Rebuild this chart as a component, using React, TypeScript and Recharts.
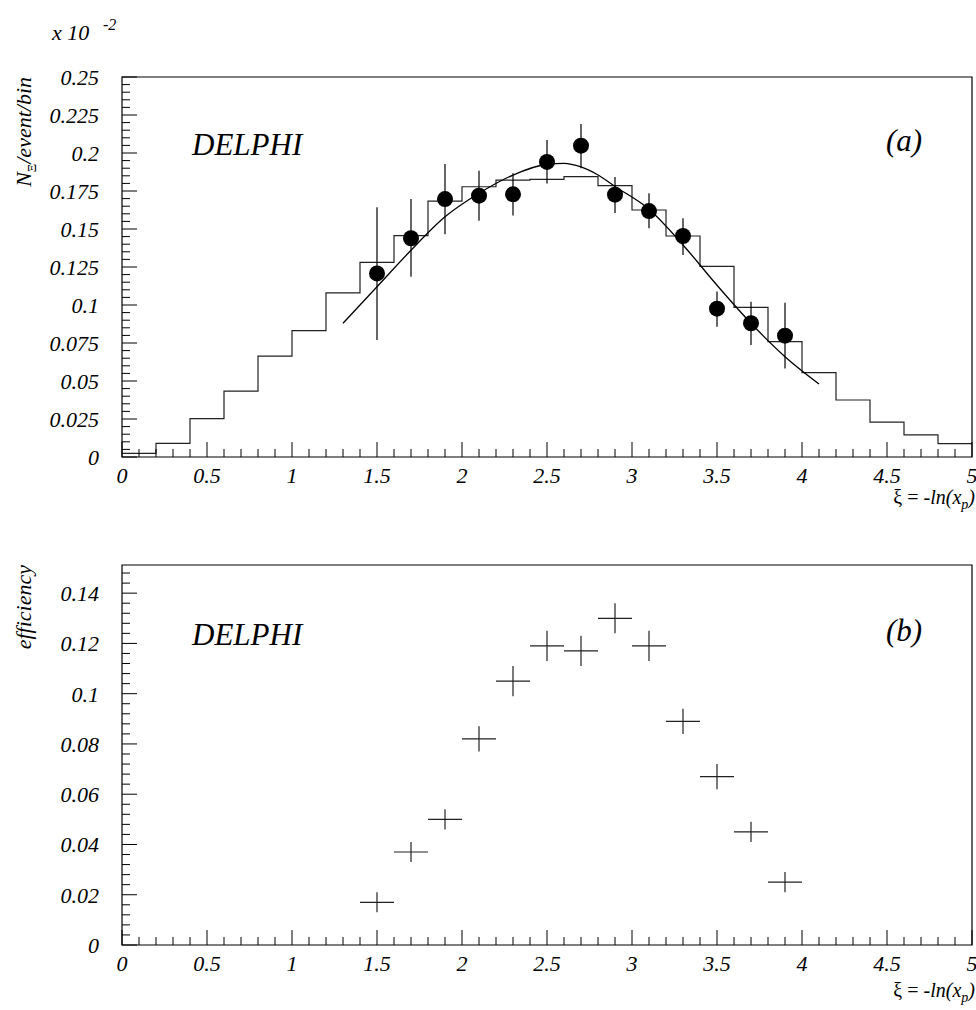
import React from 'react';
import { ComposedChart, Line, Scatter, XAxis, YAxis, ErrorBar, ReferenceArea } from 'recharts';

// ---------- data ----------
const binEdges = [0, 0.2, 0.4, 0.6, 0.8, 1.0, 1.2, 1.4, 1.6, 1.8, 2.0, 2.2, 2.4, 2.6, 2.8, 3.0, 3.2, 3.4, 3.6, 3.8, 4.0, 4.2, 4.4, 4.6, 4.8];
const histValues = [0.0024, 0.009, 0.0252, 0.0434, 0.0664, 0.0831, 0.108, 0.128, 0.1456, 0.1684, 0.1778, 0.1822, 0.1827, 0.1844, 0.1785, 0.1625, 0.1454, 0.1254, 0.0984, 0.0759, 0.0555, 0.0375, 0.023, 0.0145, 0.0088];
const histEnd = 5;

const xiPoints = [1.5, 1.7, 1.9, 2.1, 2.3, 2.5, 2.7, 2.9, 3.1, 3.3, 3.5, 3.7, 3.9];
const dataValues = [0.1208, 0.1439, 0.1697, 0.1719, 0.1728, 0.1941, 0.2048, 0.1726, 0.1618, 0.1454, 0.0976, 0.088, 0.0798];
const dataErrLow = [0.0438, 0.0253, 0.0232, 0.0164, 0.014, 0.0141, 0.0148, 0.012, 0.0113, 0.0125, 0.0119, 0.0143, 0.0215];
const dataErrHigh = [0.0435, 0.0258, 0.0231, 0.0165, 0.0138, 0.0145, 0.0142, 0.0116, 0.0117, 0.0116, 0.0112, 0.0142, 0.0217];

const fitX = [1.3, 1.5, 1.7, 1.9, 2.1, 2.3, 2.5, 2.6, 2.7, 2.8, 2.9, 3.1, 3.3, 3.5, 3.7, 3.9, 4.1];
const fitY = [0.088, 0.112, 0.136, 0.158, 0.1735, 0.1855, 0.1926, 0.1932, 0.1908, 0.1855, 0.178, 0.163, 0.1395, 0.113, 0.088, 0.066, 0.048];

const effValues = [0.017, 0.037, 0.05, 0.082, 0.105, 0.119, 0.117, 0.13, 0.119, 0.089, 0.067, 0.045, 0.025];
const effErr = [0.004, 0.004, 0.004, 0.005, 0.006, 0.006, 0.006, 0.006, 0.006, 0.005, 0.005, 0.004, 0.004];
const effXErr = [0.1, 0.1, 0.1, 0.1, 0.1, 0.1, 0.1, 0.1, 0.1, 0.1, 0.1, 0.1, 0.1];

// ---------- ticks ----------
const xMajorTicks = [0, 0.5, 1, 1.5, 2, 2.5, 3, 3.5, 4, 4.5, 5];
const xTickLabels = ['0', '0.5', '1', '1.5', '2', '2.5', '3', '3.5', '4', '4.5', '5'];
const xMinorTicks = Array.from({ length: 51 }, (_, i) => i / 10);

const yTopMajor = [0, 0.025, 0.05, 0.075, 0.1, 0.125, 0.15, 0.175, 0.2, 0.225, 0.25];
const yTopLabels = ['0', '0.025', '0.05', '0.075', '0.1', '0.125', '0.15', '0.175', '0.2', '0.225', '0.25'];
const yTopMinor = Array.from({ length: 51 }, (_, i) => i / 200);

const yBotMajor = [0, 0.02, 0.04, 0.06, 0.08, 0.1, 0.12, 0.14];
const yBotLabels = ['0', '0.02', '0.04', '0.06', '0.08', '0.1', '0.12', '0.14'];
const yBotMinor = Array.from({ length: 38 }, (_, i) => i / 250);

const X_DOMAIN: [number, number] = [0, 5];
const Y_TOP_DOMAIN: [number, number] = [0, 0.25];
const Y_BOT_DOMAIN: [number, number] = [0, 0.1512];

// ---------- derived tables ----------
const histData = [
  ...binEdges.map((e, i) => ({ x: e, y: histValues[i] })),
  { x: histEnd, y: histValues[histValues.length - 1] },
];
const pointsData = xiPoints.map((x, i) => ({ x, y: dataValues[i], err: [dataErrLow[i], dataErrHigh[i]] }));
const fitData = fitX.map((x, i) => ({ x, y: fitY[i] }));
const effData = xiPoints.map((x, i) => ({ x, y: effValues[i], ey: effErr[i], ex: effXErr[i] }));

const FONT = 'Liberation Serif';

const findIdx = (arr: number[], v: number) => arr.findIndex((m) => Math.abs(m - v) < 1e-7);

const txtStyle: React.CSSProperties = { fontFamily: FONT, fontStyle: 'italic' };
const uprightStyle: React.CSSProperties = { fontFamily: FONT, fontStyle: 'normal' };

const makeXTick = () => (props: any) => {
  const { x, y, payload } = props;
  const idx = findIdx(xMajorTicks, payload.value);
  const major = idx >= 0;
  return (
    <g>
      <line x1={x} y1={y} x2={x} y2={y - (major ? 15 : 8)} stroke="#000" strokeWidth={1} />
      {major && (
        <text x={x} y={y + 26} textAnchor="middle" fontSize={22} style={txtStyle} fill="#000">
          {xTickLabels[idx]}
        </text>
      )}
    </g>
  );
};

const makeYTick = (majors: number[], labels: string[]) => (props: any) => {
  const { x, y, payload } = props;
  const idx = findIdx(majors, payload.value);
  const major = idx >= 0;
  return (
    <g>
      <line x1={x} y1={y} x2={x + (major ? 15 : 8)} y2={y} stroke="#000" strokeWidth={1} />
      {major && (
        <text x={x - 23} y={y + 8} textAnchor="end" fontSize={22} style={txtStyle} fill="#000">
          {labels[idx]}
        </text>
      )}
    </g>
  );
};

const XTick = makeXTick();
const YTopTick = makeYTick(yTopMajor, yTopLabels);
const YBotTick = makeYTick(yBotMajor, yBotLabels);

const Dot = (p: any) => <circle cx={p.cx} cy={p.cy} r={8} fill="#000" />;
const NoShape = () => <g />;

export default function App() {
  return (
    <div style={{ position: 'absolute', left: 0, top: 0, width: 976, height: 1010, background: '#fff' }}>
      <div style={{ position: 'absolute', left: 0, top: 0 }}>
        <ComposedChart width={976} height={520} margin={{ top: 77, right: 4, bottom: 0, left: 0 }}>
          <XAxis dataKey="x" type="number" domain={X_DOMAIN} ticks={xMinorTicks} interval={0} tickSize={0} tickMargin={0}
            axisLine={false} tickLine={false} height={63} allowDataOverflow tick={XTick} />
          <YAxis type="number" domain={Y_TOP_DOMAIN} ticks={yTopMinor} interval={0} tickSize={0} tickMargin={0}
            axisLine={false} tickLine={false} width={122} allowDataOverflow tick={YTopTick} />
          <ReferenceArea x1={0} x2={5} y1={0} y2={0.25} fill="none" stroke="#000" strokeWidth={1.2} ifOverflow="visible" />
          <Line data={histData} dataKey="y" type="stepAfter" stroke="#222" strokeWidth={1.2} dot={false} isAnimationActive={false} />
          <Line data={fitData} dataKey="y" type="monotone" stroke="#000" strokeWidth={1.3} dot={false} isAnimationActive={false} />
          <Scatter data={pointsData} dataKey="y" shape={Dot} isAnimationActive={false}>
            <ErrorBar dataKey="err" direction="y" width={0} stroke="#000" strokeWidth={1.2} />
          </Scatter>
        </ComposedChart>
      </div>
      <div style={{ position: 'absolute', left: 0, top: 520 }}>
        <ComposedChart width={976} height={490} margin={{ top: 45, right: 4, bottom: 0, left: 0 }}>
          <XAxis dataKey="x" type="number" domain={X_DOMAIN} ticks={xMinorTicks} interval={0} tickSize={0} tickMargin={0}
            axisLine={false} tickLine={false} height={65} allowDataOverflow tick={XTick} />
          <YAxis type="number" domain={Y_BOT_DOMAIN} ticks={yBotMinor} interval={0} tickSize={0} tickMargin={0}
            axisLine={false} tickLine={false} width={122} allowDataOverflow tick={YBotTick} />
          <ReferenceArea x1={0} x2={5} y1={0} y2={Y_BOT_DOMAIN[1]} fill="none" stroke="#000" strokeWidth={1.2} ifOverflow="visible" />
          <Scatter data={effData} dataKey="y" shape={NoShape} isAnimationActive={false}>
            <ErrorBar dataKey="ey" direction="y" width={0} stroke="#222" strokeWidth={1.2} />
            <ErrorBar dataKey="ex" direction="x" width={0} stroke="#222" strokeWidth={1.2} />
          </Scatter>
        </ComposedChart>
      </div>
      <svg width={976} height={1010} style={{ position: 'absolute', left: 0, top: 0, pointerEvents: 'none' }}>
        <g fill="#000">
          <text x={52} y={40} fontSize={22} style={txtStyle}>x 10</text>
          <text x={103} y={30} fontSize={16} style={txtStyle}>-2</text>
          <text x={192} y={155} fontSize={31} style={txtStyle}>DELPHI</text>
          <text x={886} y={151} fontSize={31} style={txtStyle}>(a)</text>
          <text transform="translate(31,77) rotate(-90)" textAnchor="end" fontSize={22} style={txtStyle}>
            N<tspan fontSize={13} dy={5} style={uprightStyle}>Ξ</tspan>
            <tspan dy={-5}>/event/bin</tspan>
          </text>
          <text x={975} y={504} textAnchor="end" fontSize={20} style={txtStyle}>
            <tspan style={uprightStyle}>ξ = </tspan>-ln(x<tspan fontSize={14} dy={5}>p</tspan>
            <tspan dy={-5}>)</tspan>
          </text>
          <text x={192} y={645} fontSize={31} style={txtStyle}>DELPHI</text>
          <text x={886} y={641} fontSize={31} style={txtStyle}>(b)</text>
          <text transform="translate(31,565) rotate(-90)" textAnchor="end" fontSize={22} style={txtStyle}>efficiency</text>
          <text x={975} y={997} textAnchor="end" fontSize={20} style={txtStyle}>
            <tspan style={uprightStyle}>ξ = </tspan>-ln(x<tspan fontSize={14} dy={5}>p</tspan>
            <tspan dy={-5}>)</tspan>
          </text>
        </g>
      </svg>
    </div>
  );
}
